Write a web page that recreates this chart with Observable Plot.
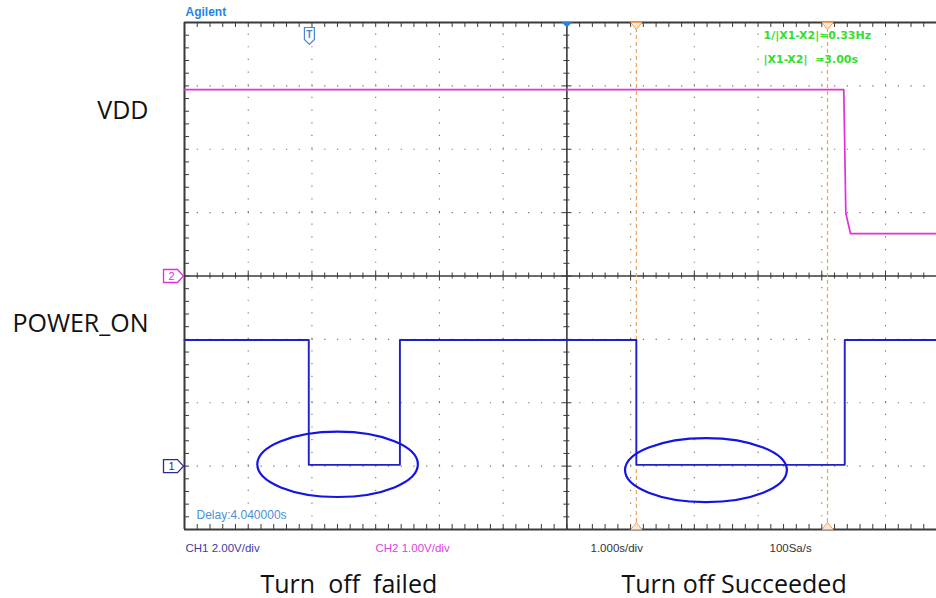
<!DOCTYPE html>
<html>
<head>
<meta charset="utf-8">
<script src="https://cdn.jsdelivr.net/npm/d3@7"></script>
<script src="https://cdn.jsdelivr.net/npm/@observablehq/plot@0.6"></script>
<style>
  body { margin: 0; background: #fff; }
  #chart svg { display: block; }
</style>
</head>
<body>
<div id="chart"></div>
<script>
// ---- Captured waveforms (time in seconds from the left edge of the screen) ----
const powerOnTime  = [0, 1.95, 1.95, 3.38, 3.38, 7.09, 7.09, 10.36, 10.36, 11.8];
const powerOnVolts = [3.98, 3.98, 0.04, 0.04, 3.98, 3.98, 0.04, 0.04, 3.98, 3.98];
const vddTime  = [0, 10.345, 10.377, 10.45, 11.8];
const vddVolts = [2.94, 2.94, 0.99, 0.67, 0.67];

// ---- Scope settings ----
const ch1VoltsPerDiv = 2.0, ch1Ground = -3;   // CH1 (POWER_ON)
const ch2VoltsPerDiv = 1.0, ch2Ground = 0;    // CH2 (VDD)
const delaySeconds = 4.04;
const centerTime = 6;                          // screen centre, in seconds from the left edge
const triggerTime = centerTime - delaySeconds;
const cursorTimes = [7.09, 10.09];

// ---- Annotation ellipses on CH1 (centre time / volts, radii in s / V) ----
const ellipseTime  = [2.41, 8.19];
const ellipseVolts = [0.04, -0.14];
const ellipseRt    = [1.26, 1.27];
const ellipseRv    = [1.03, 1.01];

// ---- Text ----
const channelLabels = ["VDD", "POWER_ON"];
const captionLabels = ["Turn  off  failed", "Turn off Succeeded"];
const scopeStatus = ["CH1 2.00V/div", "CH2 1.00V/div", "1.000s/div", "100Sa/s"];
const cursorReadout = ["1/|X1-X2|=0.33Hz", "|X1-X2|  =3.00s"];

const powerOn = powerOnTime.map((t, i) => ({t, v: powerOnVolts[i]}));
const vdd = vddTime.map((t, i) => ({t, v: vddVolts[i]}));
const ellipses = ellipseTime.map((t, i) => ({t, v: ellipseVolts[i], rt: ellipseRt[i], rv: ellipseRv[i]}));

const ch1 = v => ch1Ground + v / ch1VoltsPerDiv;
const ch2 = v => ch2Ground + v / ch2VoltsPerDiv;

const W = 936, H = 598;
const screenLeft = 184, screenTop = 22, screenBottom = 529;
const pxPerDiv = 63.73;
const xMax = (W - screenLeft) / pxPerDiv;
const pyPerDiv = (screenBottom - screenTop) / 8;

const frameColor = "#3a3a3a";
const gridColor = "#707070";
const cursorColor = "#f2a05c";
const labelFont = "'Open Sans', sans-serif";

// positions of graticule divisions and their fifths
const xMinor = d3.range(0, xMax, 0.2);
const yMinor = d3.range(-4, 4.001, 0.2);
const xDivs = d3.range(1, Math.floor(xMax) + 1).filter(d => d !== centerTime);
const yDivs = d3.range(-3, 4).filter(d => d !== 0);
const isMajor = d => Math.abs(d - Math.round(d)) < 1e-6;

// text placed relative to the top-left corner of the screen
const label = (txt, px, py, opts = {}) =>
  Plot.text([txt], {text: d => d, frameAnchor: "top-left", dx: px - screenLeft, dy: py - screenTop,
    textAnchor: "start", lineAnchor: "middle", ...opts});

// outline symbols
const chMarker = {draw(c) { c.moveTo(-21, -6.5); c.lineTo(-7, -6.5); c.lineTo(-1, 0); c.lineTo(-7, 6.5); c.lineTo(-21, 6.5); c.closePath(); }};
const trigMarker = {draw(c) { c.moveTo(-5, 5); c.lineTo(5, 5); c.lineTo(5, 17); c.lineTo(0, 22); c.lineTo(-5, 17); c.closePath(); }};
const downTri = {draw(c) { c.moveTo(-5.5, 0); c.lineTo(5.5, 0); c.lineTo(0, 7); c.closePath(); }};
const upTri = {draw(c) { c.moveTo(-5.5, 0); c.lineTo(5.5, 0); c.lineTo(0, -7); c.closePath(); }};
const centerMark = {draw(c) { c.moveTo(-4, 0); c.lineTo(4, 0); c.lineTo(0, 4); c.closePath(); }};

// ellipses drawn through the x/y scales
const ellipseMark = Plot.dot(ellipses, {
  x: "t", y: d => ch1(d.v),
  render(index, scales, values, dimensions, context) {
    const g = d3.select(context.document.createElementNS("http://www.w3.org/2000/svg", "g"));
    for (const i of index) {
      const d = ellipses[i];
      const cx = scales.x(d.t), cy = scales.y(ch1(d.v));
      const rx = scales.x(d.t + d.rt) - cx;
      const ry = cy - scales.y(ch1(d.v + d.rv));
      g.append("ellipse").attr("cx", cx).attr("cy", cy).attr("rx", rx).attr("ry", ry)
        .attr("fill", "none").attr("stroke", "#1414e4").attr("stroke-width", 2.2);
    }
    return g.node();
  }
});

const chart = Plot.plot({
  width: W, height: H,
  marginLeft: screenLeft, marginRight: 0, marginTop: screenTop, marginBottom: H - screenBottom,
  x: {domain: [0, xMax], axis: null},
  y: {domain: [-4, 4], axis: null},
  style: {fontFamily: "'Liberation Sans', Arial, sans-serif", background: "#fff"},
  marks: [
    // dotted graticule
    Plot.ruleX(xDivs, {x: d => d, y1: -4, y2: 4, stroke: gridColor, strokeWidth: 1.1,
      strokeDasharray: `1.2,${(pyPerDiv / 5 - 1.2).toFixed(3)}`}),
    Plot.ruleY(yDivs, {y: d => d, x1: 0, x2: xMax, stroke: gridColor, strokeWidth: 1.1,
      strokeDasharray: `1.2,${(pxPerDiv / 5 - 1.2).toFixed(3)}`}),

    // centre axes with tick marks
    Plot.ruleY([0], {x1: 0, x2: xMax, stroke: frameColor, strokeWidth: 1.6}),
    Plot.ruleX([centerTime], {y1: -4, y2: 4, stroke: frameColor, strokeWidth: 1.6}),
    Plot.ruleX(xMinor, {x: d => d, y1: d => (isMajor(d) ? 5 : 3) / pyPerDiv, y2: d => -(isMajor(d) ? 5 : 3) / pyPerDiv, stroke: frameColor, strokeWidth: 1}),
    Plot.ruleY(yMinor, {y: d => d, x1: d => centerTime - (isMajor(d) ? 5 : 3) / pxPerDiv, x2: d => centerTime + (isMajor(d) ? 5 : 3) / pxPerDiv, stroke: frameColor, strokeWidth: 1}),

    // screen border with inward ticks
    Plot.ruleY([4, -4], {x1: 0, x2: xMax, stroke: frameColor, strokeWidth: 2}),
    Plot.ruleX([0], {y1: -4, y2: 4, stroke: frameColor, strokeWidth: 2}),
    Plot.ruleX(xMinor, {x: d => d, y1: 4, y2: 4 - 5 / pyPerDiv, stroke: frameColor, strokeWidth: 1}),
    Plot.ruleX(xMinor, {x: d => d, y1: -4, y2: -4 + 5 / pyPerDiv, stroke: frameColor, strokeWidth: 1}),
    Plot.ruleY(yMinor, {y: d => d, x1: 0, x2: 5 / pxPerDiv, stroke: frameColor, strokeWidth: 1}),

    // time cursors
    Plot.ruleX(cursorTimes, {x: d => d, y1: -4, y2: 4, stroke: cursorColor, strokeWidth: 1.2, strokeDasharray: "4,3"}),
    Plot.dot(cursorTimes, {x: d => d, y: 4, symbol: downTri, fill: "#fde6d2", stroke: cursorColor, strokeWidth: 1}),
    Plot.dot(cursorTimes, {x: d => d, y: -4, symbol: upTri, fill: "#fde6d2", stroke: cursorColor, strokeWidth: 1}),

    // trigger position and screen centre markers
    Plot.dot([triggerTime], {x: d => d, y: 4, symbol: trigMarker, fill: "#fff", stroke: "#4a86d0", strokeWidth: 1.2}),
    Plot.text([triggerTime], {x: d => d, y: 4, text: () => "T", dy: 12, fill: "#4a86d0", fontSize: 10, fontWeight: "bold"}),
    Plot.dot([centerTime], {x: d => d, y: 4, symbol: centerMark, fill: "#2e7fd8", stroke: "#2e7fd8"}),

    // waveforms
    Plot.line(vdd, {x: "t", y: d => ch2(d.v), stroke: "#e02ee0", strokeWidth: 1.7}),
    Plot.line(powerOn, {x: "t", y: d => ch1(d.v), stroke: "#2020c8", strokeWidth: 1.9}),

    // channel ground markers
    Plot.dot([ch2Ground], {x: 0, y: d => d, symbol: chMarker, fill: "#fff", stroke: "#e030d8", strokeWidth: 1.3}),
    Plot.text([ch2Ground], {x: 0, y: d => d, text: () => "2", dx: -13, fill: "#e030d8", fontSize: 11}),
    Plot.dot([ch1Ground], {x: 0, y: d => d, symbol: chMarker, fill: "#fff", stroke: "#2a2a9a", strokeWidth: 1.3}),
    Plot.text([ch1Ground], {x: 0, y: d => d, text: () => "1", dx: -13, fill: "#2a2a9a", fontSize: 11}),

    ellipseMark,

    // on-screen readouts
    label("Agilent", 185, 12, {fill: "#1e86e6", fontWeight: "bold", fontSize: 12}),
    label(cursorReadout[0], 763, 35, {fill: "#33dd33", fontSize: 11, fontWeight: "bold", fontFamily: "'DejaVu Sans', sans-serif"}),
    label(cursorReadout[1], 763, 59, {fill: "#33dd33", fontSize: 11, fontWeight: "bold", fontFamily: "'DejaVu Sans', sans-serif"}),
    label(`Delay:${delaySeconds.toFixed(6)}s`, 196, 515, {fill: "#4a90d8", fontSize: 12}),
    label(scopeStatus[0], 185, 548, {fill: "#3c3ca0", fontSize: 11.5}),
    label(scopeStatus[1], 375, 548, {fill: "#e040e0", fontSize: 11.5}),
    label(scopeStatus[2], 590, 548, {fill: "#333", fontSize: 11.5}),
    label(scopeStatus[3], 769, 548, {fill: "#333", fontSize: 11.5}),

    // channel names and captions
    label(channelLabels[0], 148, 110, {textAnchor: "end", fontSize: 25, fill: "#111", fontFamily: labelFont}),
    label(channelLabels[1], 148, 323, {textAnchor: "end", fontSize: 25, fill: "#111", fontFamily: labelFont}),
    label(captionLabels[0], 260, 584, {fontSize: 25, fill: "#111", fontFamily: labelFont}),
    label(captionLabels[1], 621, 584, {fontSize: 25, fill: "#111", fontFamily: labelFont})
  ]
});

document.getElementById("chart").append(chart);
</script>
</body>
</html>
